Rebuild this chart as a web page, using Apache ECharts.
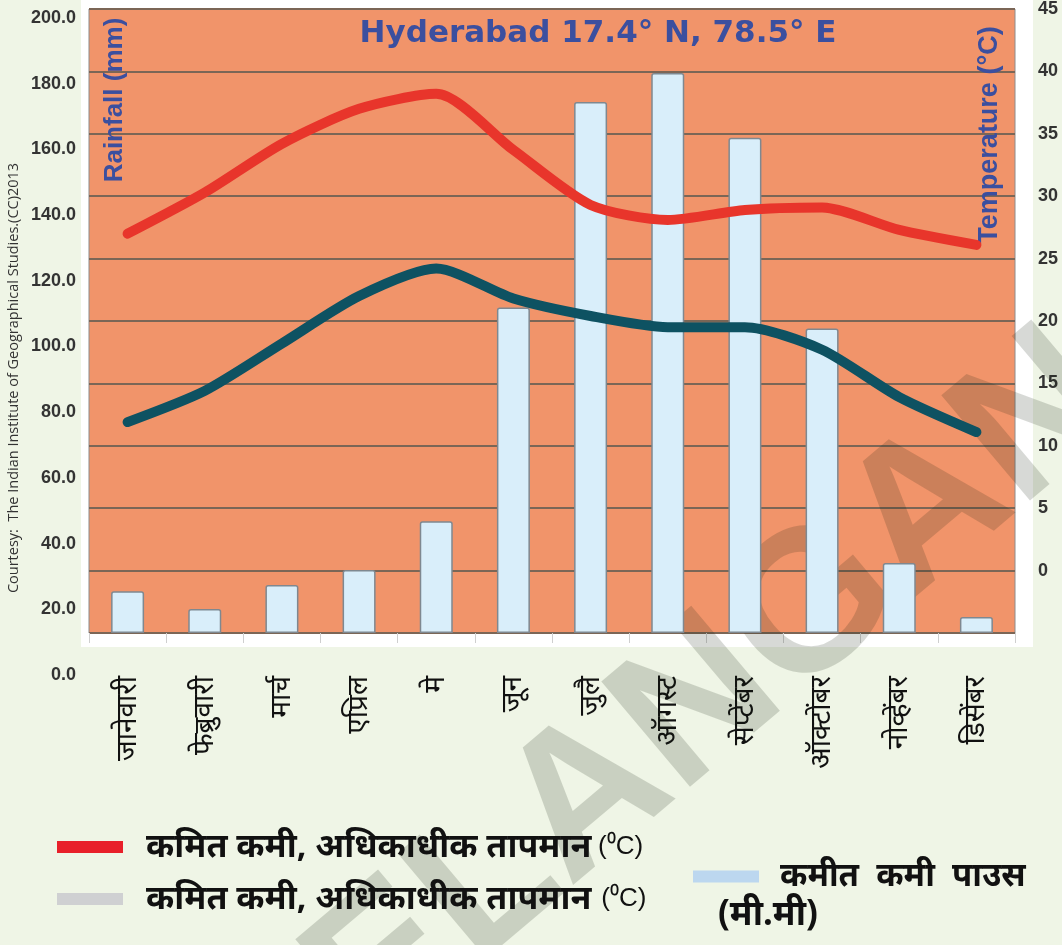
<!DOCTYPE html>
<html>
<head>
<meta charset="utf-8">
<script src="https://cdn.jsdelivr.net/npm/echarts@6/dist/echarts.min.js"></script>
<style>
  html, body { margin: 0; padding: 0; background: #eff5e6; }
  #main { width: 1062px; height: 945px; }
</style>
</head>
<body>
<div id="main"></div>
<script>
// month names as printed under the bars
const months = ['जानेवारी', 'फेब्रुवारी', 'मार्च', 'एप्रिल', 'मे', 'जून', 'जुलै',
  'ऑगस्ट', 'सेप्टेंबर', 'ऑक्टोंबर', 'नोव्हेंबर', 'डिसेंबर'];

// rainfall (mm), left axis
const rainfall = [13.4, 7.7, 15.4, 20.2, 35.8, 104.3, 170.2, 179.5, 158.7, 97.6, 22.4, 5.1];
// temperatures (°C), right axis
const maxTemp = [27.0, 30.3, 34.2, 37.0, 38.2, 33.7, 29.3, 28.1, 28.9, 29.1, 27.3, 26.1];
const minTemp = [11.9, 14.4, 18.2, 22.0, 24.2, 21.8, 20.4, 19.5, 19.5, 17.7, 13.9, 11.1];

const rainTicks = { min: 0, max: 200, step: 20 };
const tempTicks = { min: -5, max: 45, step: 5 };

const numFont = 'Liberation Sans Narrow, Liberation Sans, sans-serif';
const deva = 'Noto Sans, sans-serif';
const blue = '#3b4f9f';

const chart = echarts.init(document.getElementById('main'));

const legendRich = {
  b: { fontSize: 34, fontWeight: 'bold', color: '#111', fontFamily: deva },
  n: { fontSize: 26, color: '#111', fontFamily: numFont }
};

const option = {
  backgroundColor: '#eff5e6',
  animation: false,
  title: {
    text: 'Hyderabad 17.4° N, 78.5° E',
    left: 598,
    top: 18,
    padding: 0,
    textAlign: 'center',
    textStyle: { fontFamily: 'DejaVu Sans', fontWeight: 'bold', fontSize: 31, color: blue }
  },
  grid: [
    { left: 89, right: 47, top: 8, bottom: 312, show: true,
      backgroundColor: '#f1946a', borderColor: '#8c8c8c', borderWidth: 1 },
    // only carries the left tick labels, which sit a bit lower than the gridlines
    { left: 89, right: 47, top: 18, bottom: 270 }
  ],
  xAxis: [
    {
      type: 'category',
      gridIndex: 0,
      data: months,
      axisLine: { show: false },
      axisTick: { show: true, length: 10, lineStyle: { color: '#cfcfcf' } },
      axisLabel: {
        rotate: 90, margin: 43, color: '#111',
        fontSize: 28, fontFamily: deva
      }
    },
    { type: 'category', gridIndex: 1, show: false, data: months }
  ],
  yAxis: [
    {
      type: 'value', gridIndex: 0,
      min: rainTicks.min, max: rainTicks.max, interval: rainTicks.step,
      axisLabel: { show: false },
      axisLine: { show: false }, axisTick: { show: false },
      splitLine: { lineStyle: { color: '#7b6656', width: 2 } }
    },
    {
      type: 'value', gridIndex: 0, position: 'right',
      min: tempTicks.min, max: tempTicks.max, interval: tempTicks.step,
      axisLine: { show: false }, axisTick: { show: false },
      splitLine: { show: false },
      axisLabel: {
        margin: 23, color: '#333', fontSize: 18, fontWeight: 'bold', fontFamily: numFont,
        formatter: v => (v < 0 ? '' : String(v))
      }
    },
    {
      type: 'value', gridIndex: 1,
      min: rainTicks.min, max: rainTicks.max, interval: rainTicks.step,
      axisLine: { show: false }, axisTick: { show: false },
      splitLine: { show: false },
      axisLabel: {
        margin: 13, color: '#333', fontSize: 18, fontWeight: 'bold', fontFamily: numFont,
        formatter: v => v.toFixed(1)
      }
    }
  ],
  legend: [
    {
      left: 52, top: 825, data: ['max'], icon: 'rect', itemWidth: 66, itemHeight: 12,
      formatter: () => '{b|कमित कमी, अधिकाधीक तापमान}  {n|(⁰C)}',
      textStyle: { padding: [0, 0, 0, 18], rich: legendRich }
    },
    {
      left: 52, top: 877, icon: 'rect', itemWidth: 66, itemHeight: 12,
      data: [{ name: 'min', itemStyle: { color: '#cfd0d2' } }],
      formatter: () => '{b|कमित कमी, अधिकाधीक तापमान}   {n|(⁰C)}',
      textStyle: { padding: [0, 0, 0, 18], rich: legendRich }
    },
    {
      left: 688, top: 855, icon: 'rect', itemWidth: 66, itemHeight: 12,
      data: [{ name: 'rain', itemStyle: { color: '#bcd7ef', borderWidth: 0 } }],
      formatter: () => 'कमीत  कमी  पाउस',
      textStyle: {
        padding: [0, 0, 0, 16],
        fontSize: 33, fontWeight: 'bold', color: '#111', fontFamily: deva
      }
    }
  ],
  graphic: [
    { type: 'rect', z: -1, silent: true, shape: { x: 81, y: 0, width: 952, height: 647 },
      style: { fill: '#ffffff' } },
    { type: 'text', x: 725, y: 685, rotation: 0.70, z: 1, silent: true,
      style: { text: 'TELANGANA', fill: 'rgba(20,30,10,0.17)', font: 'bold 200px "Liberation Sans"',
        align: 'center', verticalAlign: 'middle' } },
    { type: 'text', x: 115, y: 100, rotation: Math.PI / 2, z: 3,
      style: { text: 'Rainfall (mm)', fill: blue, font: 'bold 26px "Liberation Sans Narrow", "Liberation Sans"',
        align: 'center', verticalAlign: 'middle' } },
    { type: 'text', x: 990, y: 135, rotation: Math.PI / 2, z: 3,
      style: { text: 'Temperature (°C)', fill: blue, font: 'bold 27px "Liberation Sans Narrow", "Liberation Sans"',
        align: 'center', verticalAlign: 'middle' } },
    { type: 'text', x: 14, y: 378, rotation: Math.PI / 2,
      style: { text: 'Courtesy:  The Indian Institute of Geographical Studies.(CC)2013', fill: '#333',
        font: '14.5px "Open Sans"', align: 'center', verticalAlign: 'middle' } },
    { type: 'text', x: 718, y: 915,
      style: { text: '(मी.मी)', fill: '#111', font: 'bold 35px "Noto Sans"',
        align: 'left', verticalAlign: 'middle' } }
  ],
  series: [
    {
      name: 'rain', type: 'bar', xAxisIndex: 0, yAxisIndex: 0,
      data: rainfall, barWidth: 33, z: 2,
      itemStyle: { color: '#d9eefa', borderColor: '#7f8890', borderWidth: 1.5, borderRadius: [2, 2, 0, 0] }
    },
    {
      name: 'max', type: 'line', xAxisIndex: 0, yAxisIndex: 1,
      data: maxTemp, smooth: 0.25, showSymbol: false, z: 5,
      lineStyle: { color: '#e8352b', width: 10, cap: 'round', join: 'round' },
      itemStyle: { color: '#e8202a' }
    },
    {
      name: 'min', type: 'line', xAxisIndex: 0, yAxisIndex: 1,
      data: minTemp, smooth: 0.25, showSymbol: false, z: 5,
      lineStyle: { color: '#0e5262', width: 10, cap: 'round', join: 'round' },
      itemStyle: { color: '#0e5262' }
    }
  ]
};

chart.setOption(option);
</script>
</body>
</html>
